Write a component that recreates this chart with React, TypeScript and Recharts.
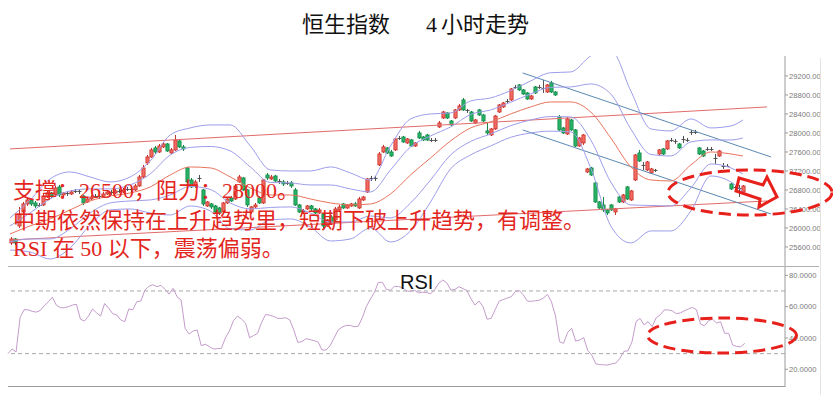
import React from 'react';
import { ComposedChart, Bar, Line, XAxis, YAxis, ReferenceLine } from 'recharts';

const SLOTS = 194;

const opens = [
  25685, 25769, 26043, 26337, 26506, 26590, 26527, 26485, 26485, 26653,
  26737, 26695, 26864, 26695, 26737, 26716, 26758, 26780, 26674, 26548,
  26611, 26653, 26674, 26653, 26716, 26758, 26737, 26780, 26758, 26801,
  26822, 26801, 26885, 27074, 27369, 27495, 27685, 27600, 27706, 27769,
  27579, 27643, 27832, 27706, 27264, 27011, 26885, 27032, 26801, 26464,
  26506, 26464, 26422, 26337, 26527, 26632, 26611, 26969, 27053, 26801,
  26337, 26443, 26632, 26527, 27116, 27032, 27095, 26990, 26969, 26927,
  26948, 26801, 26485, 26337, 26401, 26464, 26401, 26316, 26295, 26043,
  26232, 26169, 26380, 26506, 26422, 26464, 26506, 26422, 26590, 26758,
  27032, 27053, 27327, 27600, 27685, 27600, 27643, 27874, 27916, 27790,
  27853, 27727, 28000, 27916, 27958, 27832, 27853, 28127, 28316, 28421,
  28253, 28316, 28485, 28695, 28485, 28442, 28211, 28485, 28379, 28043,
  27958, 28085, 28442, 28548, 28653, 28695, 28948, 29011, 28906, 28842,
  28716, 28969, 28948, 28927, 28863, 29053, 28863, 28337, 28106, 27979,
  28274, 28064, 27727, 27790, 27179, 27264, 26948, 26548, 26485, 26380,
  26485, 26337, 26653, 26548, 26864, 26590, 27011, 27579, 27327, 27222,
  27158, 27200, 27558, 27664, 27664, 27832, 27832, 27769, 27874, 27853,
  28022, 28000, 27685, 27621, 27664, 27643, 27474, 27516, 27306, 27306,
  26927, 26864, 26843, 26758,
];

const closes = [
  25769, 25685, 26295, 26506, 26590, 26506, 26464, 26464, 26674, 26737,
  26674, 26843, 26695, 26737, 26716, 26758, 26780, 26758, 26527, 26611,
  26653, 26674, 26653, 26716, 26758, 26737, 26780, 26758, 26801, 26822,
  26801, 26885, 27074, 27264, 27495, 27643, 27600, 27727, 27769, 27621,
  27643, 27853, 27706, 27664, 26969, 26864, 26969, 27053, 26506, 26548,
  26443, 26337, 26316, 26527, 26611, 26569, 26885, 27074, 26801, 26485,
  26443, 26485, 26527, 27011, 27053, 27074, 26990, 26969, 26927, 26948,
  26885, 26485, 26337, 26359, 26464, 26401, 26316, 26380, 26043, 26169,
  26127, 26401, 26443, 26422, 26485, 26506, 26464, 26611, 26653, 27032,
  27053, 27032, 27558, 27706, 27579, 27516, 27874, 27895, 27811, 27874,
  27727, 27790, 27895, 27853, 27853, 27853, 27832, 28211, 28442, 28316,
  28169, 28485, 28569, 28485, 28464, 28253, 28274, 28379, 28253, 28000,
  28085, 28358, 28590, 28632, 28674, 28927, 28969, 28906, 28821, 28716,
  28779, 28842, 28969, 28948, 29011, 28863, 28800, 28064, 28000, 28295,
  28064, 27727, 27895, 27958, 27243, 27116, 26548, 26422, 26380, 26316,
  26380, 26401, 26548, 26695, 26611, 26780, 27537, 27411, 27306, 27390,
  27243, 27222, 27643, 27558, 27832, 27853, 27811, 27685, 27853, 27832,
  28000, 28022, 27558, 27516, 27643, 27664, 27453, 27621, 27285, 27285,
  26822, 26843, 26822, 26885,
];

const highs = [
  25811, 25790, 26443, 26548, 26632, 26611, 26569, 26527, 26716, 26780,
  26758, 26885, 26906, 26758, 26780, 26801, 26822, 26801, 26695, 26653,
  26695, 26716, 26695, 26758, 26801, 26801, 26822, 26822, 26843, 26864,
  26864, 26927, 27116, 27327, 27537, 27685, 27727, 27769, 27811, 27790,
  27685, 27958, 27853, 27748, 27285, 27053, 27011, 27116, 26822, 26569,
  26527, 26485, 26443, 26548, 26632, 26674, 26927, 27116, 27074, 26822,
  26464, 26527, 26674, 27032, 27158, 27116, 27116, 27032, 27011, 26990,
  26990, 26843, 26506, 26401, 26485, 26485, 26422, 26422, 26316, 26190,
  26274, 26443, 26485, 26527, 26506, 26527, 26548, 26653, 26674, 27053,
  27095, 27095, 27600, 27748, 27706, 27643, 27895, 27937, 27937, 27895,
  27874, 27811, 28043, 27937, 27979, 27895, 27895, 28253, 28464, 28442,
  28274, 28506, 28611, 28737, 28506, 28464, 28295, 28506, 28400, 28211,
  28106, 28379, 28611, 28653, 28716, 28948, 29011, 29032, 28927, 28863,
  28800, 28990, 29011, 29116, 29032, 29095, 28884, 28379, 28127, 28337,
  28295, 28085, 27916, 27979, 27264, 27285, 26969, 26569, 26653, 26401,
  26506, 26422, 26674, 26716, 26885, 26801, 27558, 27643, 27390, 27411,
  27264, 27243, 27664, 27685, 27853, 27895, 27874, 27790, 27937, 27895,
  28064, 28064, 27706, 27643, 27706, 27706, 27558, 27643, 27369, 27348,
  26948, 26885, 26906, 26906,
];

const lows = [
  25643, 25643, 26001, 26295, 26464, 26464, 26422, 26443, 26464, 26632,
  26632, 26674, 26653, 26653, 26674, 26695, 26737, 26716, 26485, 26527,
  26590, 26632, 26611, 26632, 26695, 26695, 26716, 26737, 26737, 26780,
  26758, 26780, 26864, 27053, 27327, 27474, 27558, 27579, 27685, 27600,
  27558, 27621, 27685, 27621, 26948, 26843, 26843, 26969, 26464, 26443,
  26401, 26316, 26274, 26316, 26506, 26548, 26590, 26948, 26780, 26443,
  26295, 26422, 26506, 26506, 27011, 27011, 26969, 26927, 26885, 26906,
  26843, 26464, 26316, 26316, 26380, 26359, 26295, 26295, 26001, 26022,
  26106, 26148, 26359, 26401, 26401, 26443, 26443, 26401, 26569, 26737,
  26990, 26990, 27306, 27579, 27558, 27495, 27621, 27853, 27790, 27769,
  27706, 27706, 27874, 27832, 27832, 27811, 27811, 28106, 28295, 28295,
  28148, 28295, 28464, 28464, 28421, 28232, 28190, 28358, 28232, 27958,
  27937, 28064, 28421, 28527, 28632, 28674, 28927, 28884, 28800, 28695,
  28695, 28821, 28927, 28842, 28842, 28842, 28779, 28043, 27979, 27958,
  28043, 27706, 27706, 27748, 27158, 27095, 26527, 26401, 26337, 26274,
  26359, 26274, 26527, 26527, 26590, 26569, 26990, 27390, 27222, 27200,
  27137, 27179, 27537, 27537, 27643, 27811, 27769, 27664, 27790, 27811,
  27958, 27979, 27537, 27495, 27621, 27621, 27348, 27495, 27243, 27285,
  26801, 26822, 26653, 26737,
];

const rsiValues = [
  30, 33, 31, 53, 58, 58, 57, 56.5, 57.5, 60.5,
  63, 66, 61, 59.3, 59.3, 60, 61, 61.5, 52, 50.8,
  54, 58.5, 56, 54, 62, 59, 55.5, 54.7, 51.5, 50.4,
  58.5, 58, 63.2, 63.6, 70.5, 73, 74, 72.7, 73.6, 71,
  68, 71.7, 66.3, 64.2, 46, 42.5, 44.5, 45.1, 35.1, 36,
  34.5, 33, 33.2, 33.4, 40, 44.5, 51, 54, 52, 49.5,
  40.2, 41.5, 43, 50, 55, 54.5, 53.8, 52.5, 52.5, 52.9,
  51.5, 45, 37.2, 37.6, 39.5, 39, 38.3, 37.5, 32.3, 32.3,
  35, 40, 45, 47, 48, 48, 47.2, 47.5, 52.9, 60,
  64.8, 69, 75.5, 75.5, 71, 70.5, 73, 72.8, 72.2, 70,
  69.8, 70.4, 68.8, 69.2, 69, 68.2, 71, 75, 77, 75.2,
  70.5, 71, 72.7, 71.5, 70.2, 65, 61, 63.6, 60, 52,
  52.5, 58, 63.5, 64.5, 65.5, 66.3, 69.6, 70.3, 67.5, 63.5,
  63.4, 63.8, 64.1, 65.5, 67.8, 63, 54, 37.6, 36.6, 43.5,
  46.2, 38, 38.7, 40.2, 32, 29.1, 23.5, 23, 22.8, 22.8,
  23.5, 24, 27, 31.5, 31.8, 37.6, 50.5, 52.5, 48.3, 50.4,
  47.2, 52.9, 54.7, 57.9, 57.9, 57.3, 55.5, 56, 57.3, 58.5,
  59.5, 58, 49, 47.8, 51, 52, 49.5, 50.4, 43, 43,
  35.5, 34.6, 34.4, 36.6,
];

const bandIndex = [0, 5, 10, 15, 20, 25, 30, 35, 40, 45, 50, 55, 60, 65, 70, 75, 80, 85, 90, 95,
  100, 105, 110, 115, 120, 125, 130, 135, 140, 145, 150, 155, 160, 165, 170, 175, 180, 183];

const bandMid = [25874, 26043, 26190, 26380, 26569, 26674, 26737, 26864, 27116, 27285,
  27264, 27074, 26843, 26695, 26695, 26611, 26527, 26485, 26506, 26716,
  27116, 27474, 27832, 28106, 28232, 28400, 28548, 28653, 28653, 28442,
  27895, 27285, 27011, 26990, 27327, 27600, 27558, 27516];

const bandUpper2 = [26211, 26590, 27032, 27179, 27074, 26969, 27074, 27411, 27958, 28106,
  28169, 28169, 27727, 27222, 27200, 27200, 27285, 27158, 27011, 27727,
  28295, 28400, 28421, 28674, 28737, 28893, 29095, 29268, 29284, 29621,
  29747, 28884, 28085, 28043, 28295, 28106, 28148, 28274];

const bandUpper1 = [26043, 26316, 26611, 26780, 26822, 26822, 26906, 27137, 27537, 27696,
  27716, 27621, 27285, 26958, 26948, 26906, 26906, 26822, 26758, 27222,
  27706, 27937, 28127, 28390, 28485, 28647, 28821, 28960, 28969, 29032,
  28821, 28085, 27548, 27516, 27811, 27853, 27853, 27895];

const bandLower1 = [25706, 25769, 25769, 25980, 26316, 26527, 26569, 26590, 26695, 26874,
  26811, 26527, 26401, 26432, 26443, 26316, 26127, 26127, 26253, 26211,
  26527, 27011, 27537, 27821, 27979, 28154, 28274, 28346, 28337, 27853,
  26969, 26485, 26474, 26464, 26843, 27348, 27264, 27137];

const bandLower2 = [25537, 25495, 25348, 25580, 26064, 26380, 26401, 26316, 26274, 26464,
  26359, 25980, 25959, 26169, 26190, 26022, 25727, 25769, 26001, 25706,
  25938, 26548, 27243, 27537, 27727, 27908, 28000, 28038, 28022, 27264,
  26043, 25685, 25938, 25938, 26359, 27095, 26969, 26758];

const priceTicks = [25600, 26000, 26400, 26800, 27200, 27600, 28000, 28400, 28800, 29200];
const rsiTicks = [20, 40, 60, 80];
const rsiLevels = [70, 30];

const trendLines = [
  { x1: 0, y1: 27664, x2: 189, y2: 28548, color: '#e26a6a' },
  { x1: 0, y1: 25748, x2: 189, y2: 26569, color: '#e26a6a' },
  { x1: 128, y1: 29263, x2: 190, y2: 27495, color: '#5b88b2' },
  { x1: 128, y1: 28064, x2: 190, y2: 26295, color: '#5b88b2' },
];

const titleParts = [
  { text: '恒生指数', left: 302 },
  { text: '4', left: 426 },
  { text: '小时走势', left: 441 },
];
const notes = ['支撑：26500，阻力：28000。', '中期依然保持在上升趋势里，短期下破上升趋势，有调整。', 'RSI 在 50 以下，震荡偏弱。'];
const noteTops = [175.5, 205.5, 234];

function buildRows() {
  const rows: any[] = [];
  for (let i = 0; i < SLOTS; i++) {
    const r: any = { i };
    if (i < opens.length) {
      r.open = opens[i];
      r.close = closes[i];
      r.high = highs[i];
      r.low = lows[i];
      r.rsi = rsiValues[i];
    }
    rows.push(r);
  }
  bandIndex.forEach((idx, k) => {
    rows[idx].mid = bandMid[k];
    rows[idx].u1 = bandUpper1[k];
    rows[idx].u2 = bandUpper2[k];
    rows[idx].l1 = bandLower1[k];
    rows[idx].l2 = bandLower2[k];
  });
  return rows;
}

function Candle(props: any) {
  const { x, y, width, height, payload } = props;
  if (!payload || payload.open == null || x == null || y == null) return <g />;
  const top = Math.min(y, y + height);
  const h = Math.abs(height);
  const range = payload.high - payload.low;
  const k = range > 0 ? h / range : 0;
  const yOpen = top + (payload.high - payload.open) * k;
  const yClose = top + (payload.high - payload.close) * k;
  const cx = Math.round(x + width / 2) + 0.5;
  const up = payload.close > payload.open;
  const flat = Math.abs(yOpen - yClose) < 1.3;
  const bodyTop = Math.min(yOpen, yClose);
  const bodyH = Math.max(Math.abs(yOpen - yClose), 1);
  const fill = up ? '#f26a62' : '#27b467';
  const edge = flat ? '#505050' : up ? '#c8322b' : '#15884a';
  return (
    <g>
      <line x1={cx} x2={cx} y1={top} y2={top + h} stroke={edge} strokeWidth={1} />
      {flat ? (
        <line x1={cx - 2} x2={cx + 2} y1={bodyTop + 0.5} y2={bodyTop + 0.5} stroke={edge} strokeWidth={1} />
      ) : (
        <rect x={cx - 1.6} y={bodyTop} width={3.2} height={bodyH} fill={fill} stroke={edge} strokeWidth={0.8} />
      )}
    </g>
  );
}

const tickStyle = { fontSize: 7.6, fill: '#7a7a7a', fontFamily: 'Liberation Sans, Arial, sans-serif' };
const noteFont = "'Liberation Serif', 'Noto Sans CJK SC', serif";
const bandColor = '#9d9cea';

export default function App() {
  const rows = buildRows();
  return (
    <div style={{ position: 'absolute', left: 0, top: 0, width: 833, height: 408, background: '#fff', overflow: 'hidden' }}>
      {titleParts.map((p, k) => (
        <div
          key={k}
          style={{
            position: 'absolute', left: p.left, top: 12, whiteSpace: 'pre',
            fontSize: 22, lineHeight: '26px', color: '#111', fontFamily: noteFont,
          }}
        >
          {p.text}
        </div>
      ))}

      <div style={{ position: 'absolute', left: 0, top: 0 }}>
        <ComposedChart width={833} height={267} data={rows} margin={{ top: 56, right: 0, bottom: 1, left: 8 }}>
          <XAxis dataKey="i" type="category" hide />
          <YAxis
            orientation="right"
            width={48}
            domain={[25200, 29620]}
            allowDataOverflow
            ticks={priceTicks}
            interval={0}
            tickFormatter={(v: number) => v.toFixed(2)}
            tick={tickStyle}
            tickSize={3}
            tickMargin={1}
            axisLine={{ stroke: '#9a9a9a' }}
            tickLine={{ stroke: '#9a9a9a' }}
          />
          {trendLines.map((t, k) => (
            <ReferenceLine
              key={k}
              segment={[{ x: t.x1, y: t.y1 }, { x: t.x2, y: t.y2 }]}
              stroke={t.color}
              strokeWidth={1}
              ifOverflow="visible"
            />
          ))}
          <Line dataKey="u2" stroke={bandColor} strokeWidth={1} dot={false} connectNulls type="monotone" isAnimationActive={false} />
          <Line dataKey="u1" stroke={bandColor} strokeWidth={1} dot={false} connectNulls type="monotone" isAnimationActive={false} />
          <Line dataKey="l1" stroke={bandColor} strokeWidth={1} dot={false} connectNulls type="monotone" isAnimationActive={false} />
          <Line dataKey="l2" stroke={bandColor} strokeWidth={1} dot={false} connectNulls type="monotone" isAnimationActive={false} />
          <Line dataKey="mid" stroke="#e8735c" strokeWidth={1} dot={false} connectNulls type="monotone" isAnimationActive={false} />
          <Bar
            dataKey={(d: any) => (d.open == null ? null : [d.low, d.high])}
            barSize={3}
            shape={<Candle />}
            isAnimationActive={false}
          />
        </ComposedChart>
      </div>

      <div style={{ position: 'absolute', left: 0, top: 267 }}>
        <ComposedChart width={833} height={121} data={rows} margin={{ top: 0, right: 0, bottom: 1, left: 8 }}>
          <XAxis dataKey="i" type="category" hide />
          <YAxis
            orientation="right"
            width={48}
            domain={[8.7, 85.3]}
            allowDataOverflow
            ticks={rsiTicks}
            interval={0}
            tickFormatter={(v: number) => v.toFixed(4)}
            tick={tickStyle}
            tickSize={3}
            tickMargin={1}
            axisLine={{ stroke: '#9a9a9a' }}
            tickLine={{ stroke: '#9a9a9a' }}
          />
          {rsiLevels.map((lv) => (
            <ReferenceLine key={lv} y={lv} stroke="#a8a8a8" strokeDasharray="4 3" strokeWidth={1} />
          ))}
          <Line dataKey="rsi" stroke="#c49bcb" strokeWidth={1} dot={false} type="linear" isAnimationActive={false} />
        </ComposedChart>
      </div>

      <div style={{ position: 'absolute', left: 8, top: 266, width: 811, height: 1, background: '#b0b0b0' }} />
      <div style={{ position: 'absolute', left: 8, top: 386, width: 777, height: 1, background: '#9a9a9a' }} />
      <div style={{ position: 'absolute', left: 820, top: 58, width: 1, height: 337, background: '#e4e4e4' }} />

      {notes.map((t, k) => (
        <div
          key={k}
          style={{
            position: 'absolute', left: 13, top: noteTops[k], whiteSpace: 'pre',
            fontSize: 22, lineHeight: '29px', color: '#e3261d', fontFamily: noteFont,
          }}
        >
          {t}
        </div>
      ))}

      <div
        style={{
          position: 'absolute', left: 400, top: 271.5, fontSize: 20, lineHeight: '20px',
          color: '#111', fontFamily: 'Liberation Sans, Arial, sans-serif',
        }}
      >
        RSI
      </div>

      <svg width={833} height={408} style={{ position: 'absolute', left: 0, top: 0, pointerEvents: 'none' }}>
        <ellipse cx={750} cy={192.5} rx={82} ry={22.5} fill="none" stroke="#e8201c" strokeWidth={3} strokeDasharray="12 6" />
        <ellipse cx={722} cy={335.5} rx={74.5} ry={17.5} fill="none" stroke="#e8201c" strokeWidth={3} strokeDasharray="12 6" />
        <polygon
          points="739,178 763,185 767,177 777,197 759,207 760,199 736,191"
          fill="none"
          stroke="#e8201c"
          strokeWidth={3}
        />
      </svg>
    </div>
  );
}
